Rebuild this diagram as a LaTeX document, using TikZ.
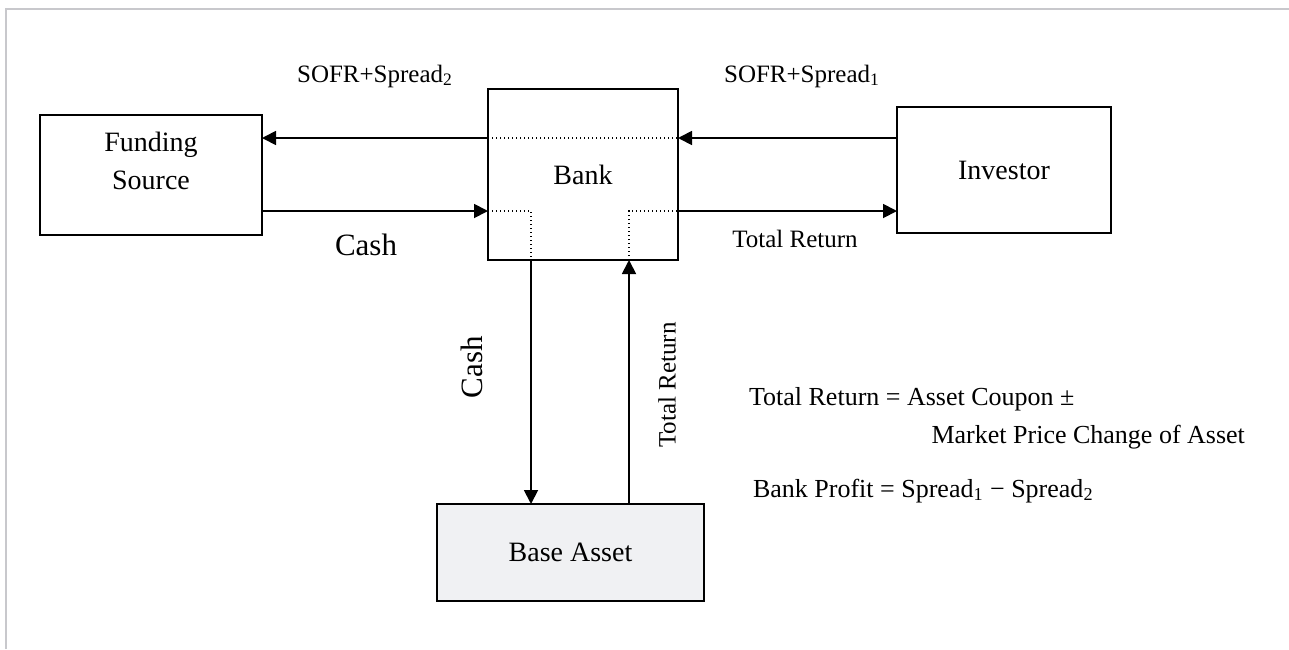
\documentclass[tikz,border=0pt]{standalone}
\usepackage{fontspec}
\setmainfont{Liberation Serif}
\usetikzlibrary{arrows.meta,positioning,calc}
\definecolor{assetgray}{RGB}{240,241,243}
\definecolor{framegray}{RGB}{200,200,204}

\begin{document}
\begin{tikzpicture}[x=0.5pt,y=-0.5pt,font=\fontsize{14}{17}\selectfont,
   b/.style={draw,line width=1pt,inner sep=0pt,outer sep=0pt,align=center},
   a/.style={-{Triangle[length=7pt,width=7pt]},line width=0.9pt},
   d/.style={line width=0.7pt,dash pattern=on 0.7pt off 1.3pt},
   lbl/.style={font=\fontsize{12.5}{15}\selectfont},
   big/.style={font=\fontsize{15.5}{18}\selectfont},
   eq/.style={font=\fontsize{13}{16}\selectfont}]
  \useasboundingbox (0,0) rectangle (1289,649);
  \draw[framegray,line width=1pt] (6,649) -- (6,9) -- (1289,9);

  % boxes
  \node[b,minimum width=111pt,minimum height=60pt,text depth=14pt,
        font=\fontsize{14}{19}\selectfont] (fs) at (151,175) {Funding\\Source};
  \node[b,minimum width=95pt,minimum height=85.5pt] (bank) at (583,174.5) {Bank};
  \node[b,minimum width=107pt,minimum height=63pt] (inv) at (1004,170) {Investor};
  \node[b,fill=assetgray,minimum width=133.5pt,minimum height=48.5pt] (base) at (570.5,552.5) {Base Asset};

  \coordinate (hi) at (0,138);
  \coordinate (lo) at (0,211);
  \coordinate (cx) at (531,0);
  \coordinate (tx) at (629,0);

  % flows
  \draw[a] (inv.west |- hi) -- (bank.east |- hi);
  \draw[a] (bank.west |- hi) -- (fs.east |- hi);
  \draw[d] (bank.west |- hi) -- (bank.east |- hi);
  \draw[a] (fs.east |- lo) -- (bank.west |- lo);
  \draw[d] (bank.west |- lo) -| (cx |- bank.south);
  \draw[a] (cx |- bank.south) -- (cx |- base.north);
  \draw[a] (tx |- base.north) -- (tx |- bank.south);
  \draw[d] (tx |- bank.south) |- (bank.east |- lo);
  \draw[a] (bank.east |- lo) -- (inv.west |- lo);

  % labels
  \node[lbl] (s2) at (375,76) {SOFR+Spread\textsubscript{2}};
  \node[lbl] (s1) at (802,76) {SOFR+Spread\textsubscript{1}};
  \node[big] (c1) at (366,245) {Cash};
  \node[lbl] (tr1) at (795,239) {Total Return};
  \node[big,rotate=90] (c2) at (472,367) {Cash};
  \node[lbl,rotate=90] (tr2) at (667,385) {Total Return};

  \node[eq,anchor=base west] (f1) at (742,405) {Total Return = Asset Coupon ±};
  \node[eq,anchor=base east] (f2) at (1252,443) {Market Price Change of Asset};
  \node[eq,anchor=base west] (f3) at (746,497) {Bank Profit = Spread\textsubscript{1} − Spread\textsubscript{2}};
\end{tikzpicture}
\end{document}
